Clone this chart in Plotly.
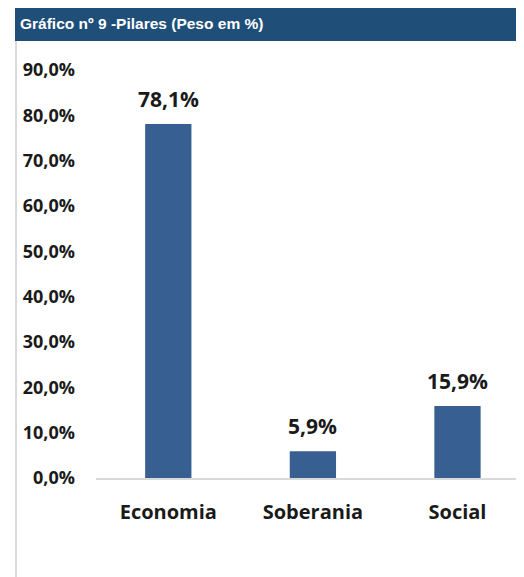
import plotly.graph_objects as go

categories = ["Economia", "Soberania", "Social"]
values = [78.1, 5.9, 15.9]
value_labels = ["78,1%", "5,9%", "15,9%"]
tick_vals = [0, 10, 20, 30, 40, 50, 60, 70, 80, 90]
tick_text = ["0,0%", "10,0%", "20,0%", "30,0%", "40,0%", "50,0%", "60,0%", "70,0%", "80,0%", "90,0%"]
title_text = "Gráfico nº 9 -Pilares (Peso em %)"

# page body adds an 8px offset; layout expressed in figure coordinates
W, H = 524, 577
L, R, T, B = 88, 8, 62, 107
PW, PH = W - L - R, H - T - B
FONT = "Open Sans"

def px(x):
    return (x - L) / PW

def py(y):
    return (H - B - y) / PH

fig = go.Figure()
fig.add_trace(go.Bar(
    x=list(range(len(categories))), y=values, width=0.32,
    marker=dict(color="#375F92", line=dict(width=0)),
    hoverinfo="skip",
))
for i, (v, t) in enumerate(zip(values, value_labels)):
    fig.add_annotation(x=i, y=v, text=t, showarrow=False, yanchor="bottom",
                       yshift=9, font=dict(family=FONT, size=21, color="#1a1a1a", weight="bold"))

fig.update_layout(
    width=W, height=H,
    margin=dict(l=L, r=R, t=T, b=B, pad=0),
    paper_bgcolor="white", plot_bgcolor="white",
    showlegend=False,
    xaxis=dict(range=[-0.5, 2.46], tickmode="array", tickvals=list(range(len(categories))),
               ticktext=categories, showgrid=False, zeroline=False,
               showline=True, linecolor="#D9D9D9", linewidth=2, ticks="",
               ticklabelstandoff=15,
               tickfont=dict(family=FONT, size=20, color="#1a1a1a", weight="bold")),
    yaxis=dict(range=[0, 90], tickmode="array", tickvals=tick_vals, ticktext=tick_text,
               showgrid=False, zeroline=False, showline=False, ticks="",
               ticklabelstandoff=20,
               tickfont=dict(family=FONT, size=18, color="#1a1a1a", weight="bold")),
    shapes=[
        dict(type="rect", xref="paper", yref="paper",
             x0=px(7), x1=px(W + 10),
             y0=py(33), y1=py(-2),
             fillcolor="#1F4E79", line=dict(width=0), layer="above"),
        dict(type="line", xref="paper", yref="paper",
             x0=px(8), x1=px(8),
             y0=py(H + 5), y1=py(33),
             line=dict(color="#D9D9D9", width=2)),
    ],
    annotations=list(fig.layout.annotations) + [
        dict(xref="paper", yref="paper",
             x=px(10), y=py(16),
             xanchor="left", yanchor="middle", showarrow=False,
             text=title_text,
             font=dict(family="Liberation Sans", size=15.5,
                       color="white", weight="bold")),
    ],
)

fig.write_html("out.html")
